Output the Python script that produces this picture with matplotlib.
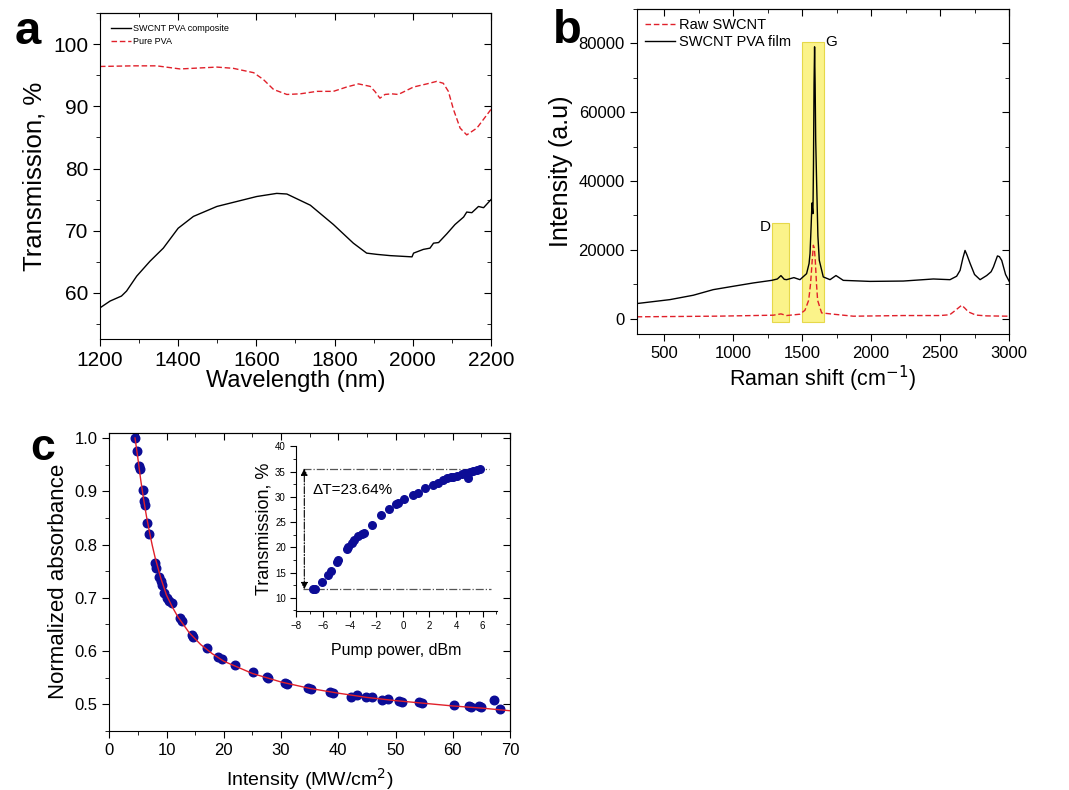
import matplotlib
matplotlib.use('Agg')
import matplotlib.pyplot as plt
from matplotlib.ticker import MultipleLocator
from matplotlib.patches import Rectangle

plt.rcParams['font.family'] = ['Liberation Sans', 'DejaVu Sans']

# (a) transmission spectra
wl_comp = [1200, 1226, 1255, 1268, 1294, 1328, 1362, 1400, 1439, 1499, 1550, 1601, 1652, 1678,
           1738, 1797, 1848, 1882, 1908, 1942, 1998, 2002, 2027, 2044, 2053, 2066, 2087, 2108,
           2130, 2138, 2151, 2168, 2181, 2200]
tr_comp = [57.6, 58.7, 59.5, 60.3, 62.7, 65.1, 67.2, 70.4, 72.3, 73.9, 74.7, 75.5, 76.0, 75.9,
           74.1, 71.0, 68.0, 66.4, 66.2, 66.0, 65.8, 66.4, 67.0, 67.2, 68.0, 68.1, 69.5, 71.0,
           72.2, 73.0, 72.9, 73.9, 73.7, 75.0]
wl_pva = [1200, 1285, 1345, 1405, 1499, 1541, 1593, 1618, 1644, 1678, 1712, 1755, 1797, 1831,
          1861, 1891, 1903, 1916, 1929, 1946, 1963, 2002, 2036, 2061, 2078, 2091, 2104, 2121,
          2138, 2164, 2200]
tr_pva = [96.4, 96.5, 96.5, 96.0, 96.3, 96.1, 95.4, 94.3, 92.7, 91.9, 92.0, 92.4, 92.4, 93.1,
          93.6, 93.2, 92.4, 91.3, 91.9, 92.0, 91.9, 93.1, 93.6, 94.0, 93.7, 92.4, 89.5, 86.5,
          85.4, 86.5, 89.5]

# (b) Raman spectra
shift_film = [300, 541, 710, 855, 1000, 1146, 1279, 1320, 1346, 1370, 1387, 1440, 1484, 1532,
              1550, 1557, 1565, 1571, 1576, 1578, 1582, 1586, 1590, 1594, 1598, 1605, 1614,
              1624, 1653, 1702, 1745, 1798, 1992, 2233, 2451, 2572, 2620, 2645, 2665, 2681,
              2695, 2718, 2750, 2790, 2838, 2870, 2887, 2905, 2916, 2930, 2947, 2975, 3000]
int_film = [4350, 5500, 6770, 8400, 9380, 10350, 11100, 11500, 12480, 11400, 11300, 11900,
            11300, 13050, 16000, 18900, 27000, 33600, 31000, 30500, 45000, 68000, 79000, 68000,
            52000, 39200, 24000, 16930, 12100, 11300, 12500, 11100, 10800, 10900, 11500, 11300,
            12300, 14000, 17500, 19800, 18500, 16000, 12800, 11300, 12500, 13600, 15000, 17000,
            18200, 18000, 16900, 12800, 10900]
shift_raw = [300, 904, 1290, 1346, 1387, 1484, 1520, 1547, 1561, 1572, 1581, 1588, 1595, 1604,
             1612, 1641, 1726, 1871, 2233, 2500, 2570, 2597, 2630, 2657, 2680, 2705, 2760,
             2838, 3000]
int_raw = [500, 700, 970, 1350, 870, 1260, 2400, 5300, 10200, 16500, 21300, 20500, 16900,
           10000, 5300, 1640, 1260, 680, 870, 870, 1100, 1930, 3000, 3870, 3000, 1930, 1000,
           770, 680]

# (c) saturable absorption
intensity = [4.54, 4.78, 5.24, 5.36, 5.82, 6.06, 6.29, 6.64, 6.99, 7.98, 8.15, 8.74, 8.97,
             9.14, 9.61, 10.02, 10.43, 10.89, 12.35, 12.64, 14.39, 14.68, 17.01, 19.05, 19.63,
             21.96, 25.16, 27.49, 27.66, 30.69, 31.10, 34.77, 35.18, 38.56, 39.14, 42.17,
             43.21, 44.85, 45.84, 47.58, 48.75, 50.67, 51.08, 54.16, 54.57, 60.22, 62.9,
             63.2, 64.5, 64.9, 67.21, 68.26]
absorb = [1.000, 0.975, 0.948, 0.942, 0.902, 0.881, 0.875, 0.840, 0.820, 0.765, 0.756, 0.739,
          0.731, 0.724, 0.709, 0.699, 0.694, 0.690, 0.662, 0.657, 0.630, 0.626, 0.605, 0.588,
          0.585, 0.573, 0.560, 0.552, 0.549, 0.540, 0.538, 0.530, 0.529, 0.523, 0.522, 0.513,
          0.517, 0.513, 0.513, 0.508, 0.510, 0.506, 0.505, 0.504, 0.503, 0.499, 0.496, 0.495,
          0.496, 0.495, 0.508, 0.492]
fit_x = [4.5, 5, 5.5, 6, 6.5, 7, 7.5, 8, 9, 10, 11, 12, 14, 16, 18, 20, 25, 30, 35, 40, 45,
         50, 55, 60, 65, 70]
fit_y = [1.0, 0.962, 0.921, 0.885, 0.853, 0.825, 0.799, 0.776, 0.737, 0.705, 0.683, 0.664,
         0.634, 0.612, 0.595, 0.581, 0.558, 0.542, 0.530, 0.521, 0.513, 0.507, 0.502, 0.497,
         0.493, 0.488]

# (c) inset
pump = [-6.77, -6.60, -6.10, -5.60, -5.40, -4.97, -4.84, -4.22, -4.09, -3.84, -3.67, -3.34,
        -3.09, -2.92, -2.34, -1.64, -1.01, -0.51, -0.34, 0.11, 0.74, 1.17, 1.67, 2.24, 2.62,
        3.04, 3.29, 3.60, 3.80, 4.10, 4.42, 4.67, 4.92, 5.05, 5.30, 5.55, 5.80]
trans = [11.7, 11.7, 13.2, 14.6, 15.3, 17.0, 17.5, 19.6, 20.1, 20.9, 21.4, 22.2, 22.7, 22.9,
         24.5, 26.3, 27.5, 28.5, 28.7, 29.5, 30.4, 30.8, 31.7, 32.3, 32.8, 33.3, 33.7, 33.9,
         34.0, 34.2, 34.5, 34.8, 33.8, 35.0, 35.2, 35.3, 35.6]
t_low, t_high = 11.7, 35.6

navy = '#0c0c96'
red = '#e0202a'


def mirror(ax, xmaj, xmin, ymaj, ymin):
    top = ax.secondary_xaxis('top')
    top.xaxis.set_major_locator(MultipleLocator(xmaj))
    top.xaxis.set_minor_locator(MultipleLocator(xmin))
    top.tick_params(which='both', direction='in', labeltop=False)
    top.tick_params(which='major', length=5)
    top.tick_params(which='minor', length=3)
    right = ax.secondary_yaxis('right')
    right.yaxis.set_major_locator(MultipleLocator(ymaj))
    right.yaxis.set_minor_locator(MultipleLocator(ymin))
    right.tick_params(which='both', direction='in', labelright=False)
    right.tick_params(which='major', length=5)
    right.tick_params(which='minor', length=3)
    ax.xaxis.set_major_locator(MultipleLocator(xmaj))
    ax.xaxis.set_minor_locator(MultipleLocator(xmin))
    ax.yaxis.set_major_locator(MultipleLocator(ymaj))
    ax.yaxis.set_minor_locator(MultipleLocator(ymin))
    ax.tick_params(which='major', direction='out', length=5)
    ax.tick_params(which='minor', direction='out', length=3)


fig = plt.figure(figsize=(10.69, 7.90), dpi=100)

# ---- panel a
ax_a = fig.add_axes([0.0935, 0.5709, 0.3658, 0.4127])
ax_a.plot(wl_comp, tr_comp, color='black', lw=1.0, label='SWCNT PVA composite')
ax_a.plot(wl_pva, tr_pva, color=red, lw=1.0, ls=(0, (4, 2)), label='Pure PVA')
ax_a.set_xlim(1200, 2200)
ax_a.set_ylim(52.6, 105)
mirror(ax_a, 200, 100, 10, 5)
ax_a.tick_params(labelsize=15)
ax_a.set_xlabel('Wavelength (nm)', fontsize=17, labelpad=0)
ax_a.set_ylabel('Transmission, %', fontsize=18.5, labelpad=5)
ax_a.legend(loc='upper left', fontsize=6.5, frameon=False, handlelength=2.2,
            handletextpad=0.3, bbox_to_anchor=(0.0, 1.0), borderaxespad=0.8)
fig.text(0.026, 0.960, 'a', fontsize=34, fontweight='bold', ha='center', va='center')

# ---- panel b
ax_b = fig.add_axes([0.5956, 0.5772, 0.3483, 0.4114])
ax_b.add_patch(Rectangle((1283, -1000), 1401 - 1283, 28750, facecolor='#fbf38a',
                         edgecolor='#e6d84a', lw=0.8, zorder=0))
ax_b.add_patch(Rectangle((1500, -1000), 1655 - 1500, 81500, facecolor='#fbf38a',
                         edgecolor='#e6d84a', lw=0.8, zorder=0))
ax_b.plot(shift_raw, int_raw, color=red, lw=1.0, ls=(0, (4, 2)), label='Raw SWCNT')
ax_b.plot(shift_film, int_film, color='black', lw=1.0, label='SWCNT PVA film')
ax_b.text(1230, 26600, 'D', fontsize=11, ha='center', va='center')
ax_b.text(1710, 80300, 'G', fontsize=11, ha='center', va='center')
ax_b.set_xlim(300, 3000)
ax_b.set_ylim(-4500, 90000)
mirror(ax_b, 500, 250, 20000, 10000)
ax_b.tick_params(labelsize=12)
ax_b.set_xlabel('Raman shift (cm$^{-1}$)', fontsize=15.5, labelpad=2)
ax_b.set_ylabel('Intensity (a.u)', fontsize=18, labelpad=4)
ax_b.legend(loc='upper left', fontsize=10.5, frameon=False, handlelength=2.0,
            handletextpad=0.3, borderaxespad=0.2, labelspacing=0.2)
fig.text(0.531, 0.961, 'b', fontsize=34, fontweight='bold', ha='center', va='center')

# ---- panel c
ax_c = fig.add_axes([0.1022, 0.0747, 0.3749, 0.3776])
ax_c.plot(fit_x, fit_y, color=red, lw=1.0, zorder=3)
ax_c.scatter(intensity, absorb, s=38, color=navy, zorder=2)
ax_c.set_xlim(0, 70)
ax_c.set_ylim(0.45, 1.01)
mirror(ax_c, 10, 5, 0.1, 0.05)
ax_c.tick_params(labelsize=12)
ax_c.set_xlabel('Intensity (MW/cm$^2$)', fontsize=14, labelpad=6)
ax_c.set_ylabel('Normalized absorbance', fontsize=16, labelpad=4)
fig.text(0.04, 0.432, 'c', fontsize=32, fontweight='bold', ha='center', va='center')

ins = fig.add_axes([0.2772, 0.2266, 0.1874, 0.2085])
ins.set_facecolor('none')
ins.scatter(pump, trans, s=30, color=navy, zorder=3)
ins.plot([-7.5, 6.5], [t_high, t_high], color='#555555', lw=0.9, ls='-.')
ins.plot([-7.5, 6.6], [t_low, t_low], color='#555555', lw=0.9, ls='-.')
ins.annotate('', xy=(-7.4, t_high), xytext=(-7.4, t_low),
             arrowprops=dict(arrowstyle='<|-|>', color='black', lw=0.8, ls='-.',
                             mutation_scale=10, shrinkA=0, shrinkB=0))
ins.text(-6.8, 31.3, '\u0394T=23.64%', fontsize=11, va='center')
ins.set_xlim(-8, 7.05)
ins.set_ylim(7.4, 40)
ins.spines['top'].set_visible(False)
ins.spines['right'].set_visible(False)
ins.xaxis.set_major_locator(MultipleLocator(2))
ins.xaxis.set_minor_locator(MultipleLocator(1))
ins.yaxis.set_major_locator(MultipleLocator(5))
ins.yaxis.set_minor_locator(MultipleLocator(2.5))
ins.tick_params(which='major', labelsize=7, length=4, direction='out')
ins.tick_params(which='minor', length=2, direction='out')
ins.set_xlabel('Pump power, dBm', fontsize=11.5, labelpad=8)
ins.set_ylabel('Transmission, %', fontsize=13, labelpad=2)

fig.savefig('out.png', dpi=100)
